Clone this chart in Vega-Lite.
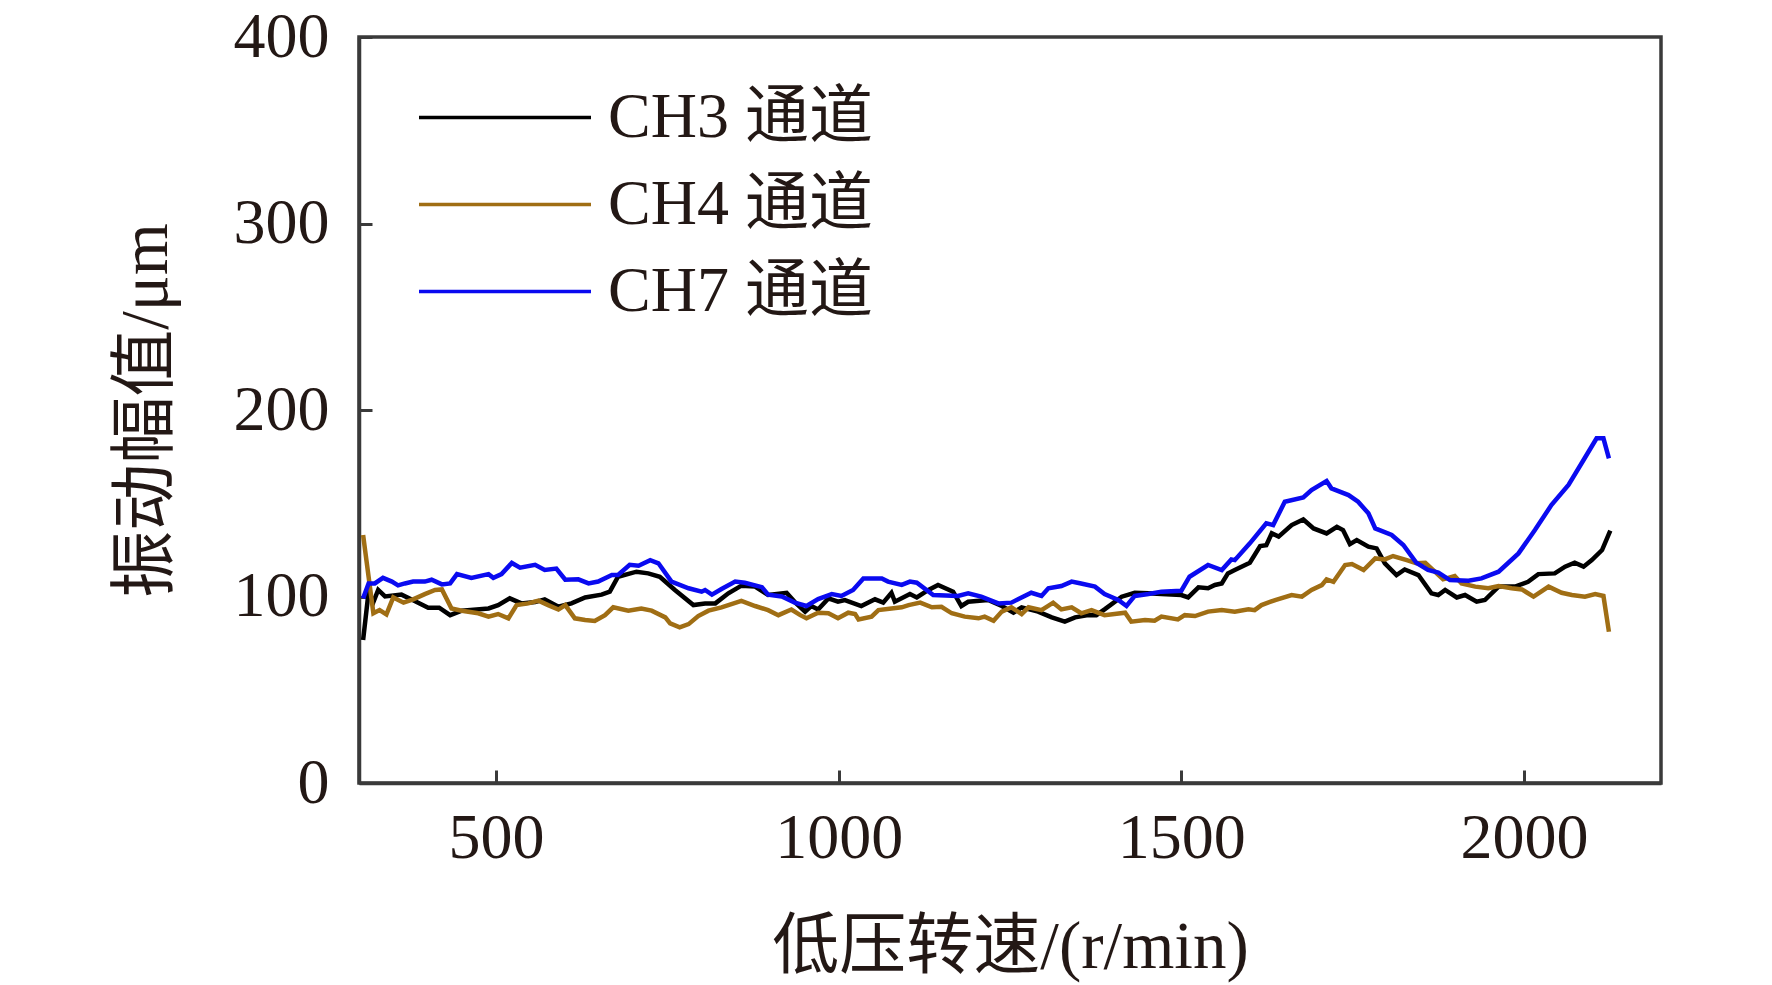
{
  "$schema": "https://vega.github.io/schema/vega-lite/v6.json",
  "autosize": {"type": "none"},
  "padding": {"left": 359, "top": 37, "right": 111, "bottom": 202},
  "width": 1302,
  "height": 746,
  "background": "white",
  "datasets": {
    "ch3": [
      {"rpm": 306, "amp": 76.7}, {"rpm": 314, "amp": 102.6}, {"rpm": 321, "amp": 97}, {"rpm": 328, "amp": 103.5},
      {"rpm": 338, "amp": 100}, {"rpm": 362, "amp": 101}, {"rpm": 379, "amp": 98}, {"rpm": 401, "amp": 94},
      {"rpm": 417, "amp": 94}, {"rpm": 433, "amp": 90}, {"rpm": 450, "amp": 92.4}, {"rpm": 489, "amp": 93.6},
      {"rpm": 503, "amp": 95.4}, {"rpm": 520, "amp": 99}, {"rpm": 537, "amp": 96.3}, {"rpm": 557, "amp": 97},
      {"rpm": 571, "amp": 98.5}, {"rpm": 591, "amp": 94.5}, {"rpm": 610, "amp": 96.3}, {"rpm": 630, "amp": 99.5},
      {"rpm": 654, "amp": 101}, {"rpm": 666, "amp": 102.6}, {"rpm": 678, "amp": 110.6}, {"rpm": 705, "amp": 113.3},
      {"rpm": 722, "amp": 112.4}, {"rpm": 739, "amp": 110.6}, {"rpm": 761, "amp": 103.5}, {"rpm": 788, "amp": 95.4},
      {"rpm": 805, "amp": 96.3}, {"rpm": 820, "amp": 96.3}, {"rpm": 839, "amp": 101.7}, {"rpm": 858, "amp": 105.8},
      {"rpm": 878, "amp": 105.3}, {"rpm": 897, "amp": 100.8}, {"rpm": 924, "amp": 102}, {"rpm": 936, "amp": 97},
      {"rpm": 951, "amp": 91.9}, {"rpm": 960, "amp": 94.9}, {"rpm": 970, "amp": 93}, {"rpm": 985, "amp": 99},
      {"rpm": 999, "amp": 97.2}, {"rpm": 1009, "amp": 98.1}, {"rpm": 1033, "amp": 94.9}, {"rpm": 1053, "amp": 98.5},
      {"rpm": 1065, "amp": 96.7}, {"rpm": 1077, "amp": 102}, {"rpm": 1082, "amp": 97.2}, {"rpm": 1104, "amp": 101.3},
      {"rpm": 1114, "amp": 99.5}, {"rpm": 1131, "amp": 103.5}, {"rpm": 1145, "amp": 106.2}, {"rpm": 1167, "amp": 102.6},
      {"rpm": 1179, "amp": 94.9}, {"rpm": 1189, "amp": 97.2}, {"rpm": 1218, "amp": 98.1}, {"rpm": 1238, "amp": 94.9},
      {"rpm": 1255, "amp": 91.3}, {"rpm": 1267, "amp": 94.2}, {"rpm": 1291, "amp": 91.9}, {"rpm": 1311, "amp": 88.8},
      {"rpm": 1330, "amp": 86.5}, {"rpm": 1345, "amp": 88.8}, {"rpm": 1364, "amp": 90}, {"rpm": 1376, "amp": 90},
      {"rpm": 1388, "amp": 93.1}, {"rpm": 1413, "amp": 99.9}, {"rpm": 1432, "amp": 102}, {"rpm": 1452, "amp": 101.7},
      {"rpm": 1471, "amp": 101.3}, {"rpm": 1500, "amp": 100.8}, {"rpm": 1510, "amp": 99.5}, {"rpm": 1525, "amp": 104.9},
      {"rpm": 1539, "amp": 104.4}, {"rpm": 1549, "amp": 106.2}, {"rpm": 1559, "amp": 107}, {"rpm": 1568, "amp": 112.4},
      {"rpm": 1578, "amp": 114.2}, {"rpm": 1600, "amp": 118.1}, {"rpm": 1615, "amp": 127}, {"rpm": 1624, "amp": 127.5},
      {"rpm": 1632, "amp": 133.9}, {"rpm": 1642, "amp": 132.1}, {"rpm": 1661, "amp": 138.3}, {"rpm": 1678, "amp": 141.3},
      {"rpm": 1693, "amp": 136.5}, {"rpm": 1712, "amp": 133.8}, {"rpm": 1727, "amp": 137.4}, {"rpm": 1736, "amp": 135.6},
      {"rpm": 1746, "amp": 128.1}, {"rpm": 1756, "amp": 130.3}, {"rpm": 1773, "amp": 126.7}, {"rpm": 1785, "amp": 125.8},
      {"rpm": 1797, "amp": 117.8}, {"rpm": 1814, "amp": 111.5}, {"rpm": 1826, "amp": 114.5}, {"rpm": 1846, "amp": 111.5},
      {"rpm": 1865, "amp": 101.7}, {"rpm": 1875, "amp": 100.8}, {"rpm": 1885, "amp": 103.5}, {"rpm": 1902, "amp": 99.5},
      {"rpm": 1914, "amp": 100.8}, {"rpm": 1931, "amp": 97.2}, {"rpm": 1943, "amp": 98.1}, {"rpm": 1963, "amp": 105.3},
      {"rpm": 1987, "amp": 105.3}, {"rpm": 2006, "amp": 107.9}, {"rpm": 2021, "amp": 112}, {"rpm": 2045, "amp": 112.4},
      {"rpm": 2060, "amp": 116}, {"rpm": 2074, "amp": 118.1}, {"rpm": 2087, "amp": 116}, {"rpm": 2099, "amp": 119.5},
      {"rpm": 2114, "amp": 124.9}, {"rpm": 2126, "amp": 135.3}
    ],
    "ch4": [
      {"rpm": 306, "amp": 133}, {"rpm": 314, "amp": 110.6}, {"rpm": 321, "amp": 91}, {"rpm": 330, "amp": 92.7},
      {"rpm": 340, "amp": 90.4}, {"rpm": 350, "amp": 99.5}, {"rpm": 365, "amp": 96.7}, {"rpm": 379, "amp": 98.5},
      {"rpm": 396, "amp": 101.3}, {"rpm": 411, "amp": 103.5}, {"rpm": 421, "amp": 103.8}, {"rpm": 435, "amp": 93.6},
      {"rpm": 450, "amp": 92.4}, {"rpm": 474, "amp": 91}, {"rpm": 489, "amp": 89.2}, {"rpm": 503, "amp": 90.6},
      {"rpm": 518, "amp": 88.3}, {"rpm": 530, "amp": 95.4}, {"rpm": 547, "amp": 96.3}, {"rpm": 562, "amp": 97.8},
      {"rpm": 576, "amp": 95.4}, {"rpm": 591, "amp": 93}, {"rpm": 601, "amp": 95.4}, {"rpm": 615, "amp": 88.3},
      {"rpm": 630, "amp": 87.4}, {"rpm": 644, "amp": 86.9}, {"rpm": 659, "amp": 90}, {"rpm": 671, "amp": 94.2},
      {"rpm": 693, "amp": 92.4}, {"rpm": 712, "amp": 93.6}, {"rpm": 727, "amp": 92.4}, {"rpm": 747, "amp": 88.8},
      {"rpm": 754, "amp": 85.6}, {"rpm": 768, "amp": 83.5}, {"rpm": 781, "amp": 85.2}, {"rpm": 795, "amp": 89.5},
      {"rpm": 810, "amp": 92.4}, {"rpm": 829, "amp": 94.2}, {"rpm": 858, "amp": 97.6}, {"rpm": 878, "amp": 94.9},
      {"rpm": 897, "amp": 92.7}, {"rpm": 912, "amp": 90}, {"rpm": 931, "amp": 93}, {"rpm": 944, "amp": 90},
      {"rpm": 953, "amp": 88.3}, {"rpm": 970, "amp": 91.3}, {"rpm": 985, "amp": 91}, {"rpm": 999, "amp": 88.3},
      {"rpm": 1014, "amp": 91.3}, {"rpm": 1024, "amp": 90.6}, {"rpm": 1029, "amp": 87.7}, {"rpm": 1048, "amp": 89.2},
      {"rpm": 1058, "amp": 92.7}, {"rpm": 1077, "amp": 93.6}, {"rpm": 1092, "amp": 94.2}, {"rpm": 1102, "amp": 95.4},
      {"rpm": 1119, "amp": 96.7}, {"rpm": 1136, "amp": 94.2}, {"rpm": 1150, "amp": 94.5}, {"rpm": 1165, "amp": 91},
      {"rpm": 1184, "amp": 89.2}, {"rpm": 1204, "amp": 88.3}, {"rpm": 1213, "amp": 89.2}, {"rpm": 1226, "amp": 87},
      {"rpm": 1238, "amp": 91.9}, {"rpm": 1252, "amp": 94.2}, {"rpm": 1267, "amp": 90.6}, {"rpm": 1277, "amp": 94.2},
      {"rpm": 1296, "amp": 92.7}, {"rpm": 1313, "amp": 96.7}, {"rpm": 1325, "amp": 93.1}, {"rpm": 1340, "amp": 94.2},
      {"rpm": 1354, "amp": 91}, {"rpm": 1369, "amp": 92.7}, {"rpm": 1388, "amp": 90}, {"rpm": 1418, "amp": 91.3},
      {"rpm": 1427, "amp": 86.5}, {"rpm": 1447, "amp": 87.4}, {"rpm": 1461, "amp": 87}, {"rpm": 1471, "amp": 89.2},
      {"rpm": 1495, "amp": 87.7}, {"rpm": 1505, "amp": 90}, {"rpm": 1520, "amp": 89.5}, {"rpm": 1539, "amp": 91.9},
      {"rpm": 1559, "amp": 92.7}, {"rpm": 1578, "amp": 91.8}, {"rpm": 1598, "amp": 93.1}, {"rpm": 1607, "amp": 92.7},
      {"rpm": 1617, "amp": 95.4}, {"rpm": 1637, "amp": 98.1}, {"rpm": 1661, "amp": 100.8}, {"rpm": 1676, "amp": 99.9},
      {"rpm": 1690, "amp": 103.5}, {"rpm": 1705, "amp": 106.1}, {"rpm": 1712, "amp": 109.2}, {"rpm": 1722, "amp": 107.9},
      {"rpm": 1739, "amp": 116.9}, {"rpm": 1749, "amp": 117.4}, {"rpm": 1766, "amp": 114.2}, {"rpm": 1783, "amp": 120.4},
      {"rpm": 1797, "amp": 119.9}, {"rpm": 1809, "amp": 121.7}, {"rpm": 1829, "amp": 119.5}, {"rpm": 1843, "amp": 117.8},
      {"rpm": 1856, "amp": 118.1}, {"rpm": 1870, "amp": 113.3}, {"rpm": 1882, "amp": 109.2}, {"rpm": 1899, "amp": 111},
      {"rpm": 1909, "amp": 107}, {"rpm": 1929, "amp": 105.3}, {"rpm": 1948, "amp": 104.4}, {"rpm": 1963, "amp": 105.6},
      {"rpm": 1982, "amp": 104.4}, {"rpm": 1997, "amp": 103.8}, {"rpm": 2014, "amp": 99.9}, {"rpm": 2036, "amp": 105.3},
      {"rpm": 2055, "amp": 102}, {"rpm": 2070, "amp": 100.8}, {"rpm": 2089, "amp": 99.9}, {"rpm": 2104, "amp": 101.3},
      {"rpm": 2116, "amp": 100.3}, {"rpm": 2124, "amp": 81.1}
    ],
    "ch7": [
      {"rpm": 306, "amp": 99}, {"rpm": 314, "amp": 107}, {"rpm": 323, "amp": 107}, {"rpm": 335, "amp": 110},
      {"rpm": 348, "amp": 108}, {"rpm": 357, "amp": 106}, {"rpm": 367, "amp": 107}, {"rpm": 379, "amp": 108},
      {"rpm": 396, "amp": 108}, {"rpm": 406, "amp": 109}, {"rpm": 421, "amp": 106.5}, {"rpm": 433, "amp": 107},
      {"rpm": 443, "amp": 112}, {"rpm": 464, "amp": 110}, {"rpm": 489, "amp": 112}, {"rpm": 496, "amp": 110},
      {"rpm": 508, "amp": 112}, {"rpm": 523, "amp": 118}, {"rpm": 535, "amp": 115.5}, {"rpm": 557, "amp": 117},
      {"rpm": 571, "amp": 114.2}, {"rpm": 588, "amp": 115}, {"rpm": 601, "amp": 109}, {"rpm": 620, "amp": 109.2},
      {"rpm": 635, "amp": 107}, {"rpm": 649, "amp": 108}, {"rpm": 669, "amp": 111.5}, {"rpm": 678, "amp": 111.5},
      {"rpm": 695, "amp": 117}, {"rpm": 708, "amp": 116.5}, {"rpm": 725, "amp": 119.5}, {"rpm": 737, "amp": 117.8},
      {"rpm": 756, "amp": 108}, {"rpm": 781, "amp": 104.4}, {"rpm": 800, "amp": 102.6}, {"rpm": 805, "amp": 103.5},
      {"rpm": 815, "amp": 101}, {"rpm": 829, "amp": 104}, {"rpm": 849, "amp": 108}, {"rpm": 863, "amp": 107.4},
      {"rpm": 888, "amp": 105}, {"rpm": 897, "amp": 101}, {"rpm": 917, "amp": 100}, {"rpm": 936, "amp": 96.7},
      {"rpm": 953, "amp": 94.9}, {"rpm": 970, "amp": 98.6}, {"rpm": 990, "amp": 101.3}, {"rpm": 1004, "amp": 100.3},
      {"rpm": 1021, "amp": 103.5}, {"rpm": 1036, "amp": 109.7}, {"rpm": 1063, "amp": 109.7}, {"rpm": 1072, "amp": 108},
      {"rpm": 1092, "amp": 106.2}, {"rpm": 1104, "amp": 108}, {"rpm": 1114, "amp": 107.4}, {"rpm": 1138, "amp": 100.8},
      {"rpm": 1174, "amp": 100.3}, {"rpm": 1189, "amp": 101.7}, {"rpm": 1208, "amp": 99.9}, {"rpm": 1233, "amp": 96.3},
      {"rpm": 1252, "amp": 96.7}, {"rpm": 1281, "amp": 102}, {"rpm": 1296, "amp": 100.3}, {"rpm": 1306, "amp": 104.4},
      {"rpm": 1325, "amp": 105.6}, {"rpm": 1340, "amp": 108}, {"rpm": 1352, "amp": 107.1}, {"rpm": 1374, "amp": 105.3},
      {"rpm": 1388, "amp": 101.3}, {"rpm": 1408, "amp": 98.1}, {"rpm": 1420, "amp": 94.9}, {"rpm": 1432, "amp": 100.3},
      {"rpm": 1452, "amp": 101.3}, {"rpm": 1471, "amp": 102.6}, {"rpm": 1500, "amp": 103.1}, {"rpm": 1512, "amp": 110.6},
      {"rpm": 1539, "amp": 116.9}, {"rpm": 1559, "amp": 114.2}, {"rpm": 1573, "amp": 119.9}, {"rpm": 1578, "amp": 119.5},
      {"rpm": 1600, "amp": 128.5}, {"rpm": 1624, "amp": 139.2}, {"rpm": 1634, "amp": 138.3}, {"rpm": 1651, "amp": 150.8},
      {"rpm": 1678, "amp": 153.1}, {"rpm": 1690, "amp": 157.1}, {"rpm": 1712, "amp": 161.9}, {"rpm": 1719, "amp": 158},
      {"rpm": 1744, "amp": 154.4}, {"rpm": 1758, "amp": 150.8}, {"rpm": 1773, "amp": 144.6}, {"rpm": 1783, "amp": 136.5},
      {"rpm": 1807, "amp": 133}, {"rpm": 1824, "amp": 127.6}, {"rpm": 1843, "amp": 118.1}, {"rpm": 1860, "amp": 114.2},
      {"rpm": 1875, "amp": 112.8}, {"rpm": 1892, "amp": 108.8}, {"rpm": 1919, "amp": 108.5}, {"rpm": 1938, "amp": 109.7},
      {"rpm": 1963, "amp": 113.3}, {"rpm": 1992, "amp": 123.1}, {"rpm": 2016, "amp": 135.6}, {"rpm": 2040, "amp": 149},
      {"rpm": 2065, "amp": 159.8}, {"rpm": 2087, "amp": 173.2}, {"rpm": 2106, "amp": 184.8}, {"rpm": 2116, "amp": 184.8},
      {"rpm": 2124, "amp": 174.1}
    ]
  },
  "layer": [
    {"data": {"name": "ch3"}, "transform": [{"calculate": "'CH3 通道'", "as": "channel"}],
     "mark": {"type": "line", "strokeWidth": 4.5, "clip": true},
     "encoding": {
       "x": {"field": "rpm", "type": "quantitative"},
       "y": {"field": "amp", "type": "quantitative"},
       "color": {"field": "channel", "type": "nominal"}
     }},
    {"data": {"name": "ch4"}, "transform": [{"calculate": "'CH4 通道'", "as": "channel"}],
     "mark": {"type": "line", "strokeWidth": 4.5, "clip": true},
     "encoding": {
       "x": {"field": "rpm", "type": "quantitative"},
       "y": {"field": "amp", "type": "quantitative"},
       "color": {"field": "channel", "type": "nominal"}
     }},
    {"data": {"name": "ch7"}, "transform": [{"calculate": "'CH7 通道'", "as": "channel"}],
     "mark": {"type": "line", "strokeWidth": 4.5, "clip": true},
     "encoding": {
       "x": {
         "field": "rpm", "type": "quantitative", "title": "低压转速/(r/min)",
         "scale": {"domain": [300, 2200], "nice": false, "zero": false},
         "axis": {"values": [500, 1000, 1500, 2000], "format": "d", "labelPadding": 36, "titlePadding": 44}
       },
       "y": {
         "field": "amp", "type": "quantitative", "title": "振动幅值/μm",
         "scale": {"domain": [0, 400], "nice": false},
         "axis": {"values": [0, 100, 200, 300, 400], "format": "d", "labelPadding": 43, "titlePadding": 53}
       },
       "color": {
         "field": "channel", "type": "nominal",
         "scale": {"domain": ["CH3 通道", "CH4 通道", "CH7 通道"], "range": ["#000000", "#a06e14", "#0a0af0"]},
         "legend": {
           "title": null, "orient": "none", "legendX": 58, "legendY": 37,
           "symbolType": "stroke", "symbolSize": 29584, "symbolStrokeWidth": 3.5,
           "labelFontSize": 64, "labelOffset": 15, "labelLimit": 0, "clipHeight": 87, "rowPadding": 0, "padding": 0,
           "labelFont": "Liberation Serif, Noto Sans CJK SC", "labelColor": "#231815",
           "encode": {"symbols": {"update": {"stroke": {"signal": "datum.label === 'CH3 通道' ? '#0a0a6e' : scale('color', datum.value)"}}}}
         }
       }
     }}
  ],
  "config": {
    "view": {"stroke": "#3a3a3a", "strokeWidth": 3.5},
    "axis": {
      "grid": false,
      "domainColor": "#3a3a3a", "domainWidth": 3.5,
      "tickColor": "#3a3a3a", "tickWidth": 3, "tickSize": -13,
      "labelFont": "Liberation Serif", "labelFontSize": 64, "labelColor": "#231815",
      "titleFont": "Liberation Serif, Noto Sans CJK SC", "titleFontSize": 67, "titleFontWeight": "normal", "titleColor": "#231815"
    }
  }
}
